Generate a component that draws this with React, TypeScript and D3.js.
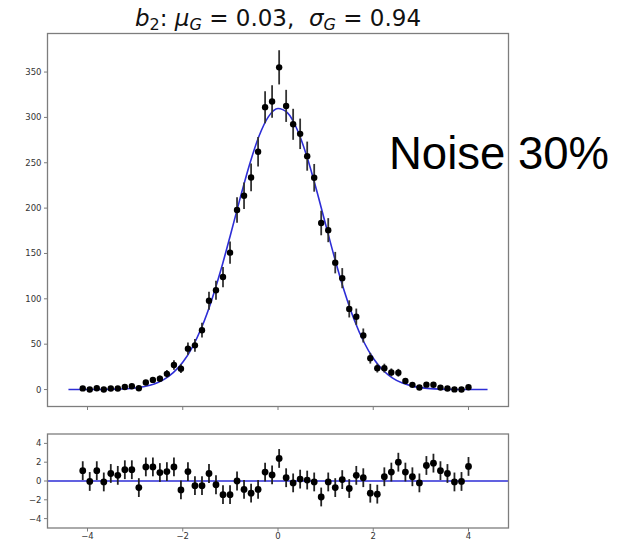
import React from "react";
import * as d3 from "d3";

// ---- data ----
const binX = [
  -4.1, -3.953, -3.805, -3.658, -3.511, -3.364, -3.216, -3.069, -2.922, -2.775,
  -2.627, -2.48, -2.333, -2.185, -2.038, -1.891, -1.744, -1.596, -1.449, -1.302,
  -1.155, -1.007, -0.86, -0.713, -0.565, -0.418, -0.271, -0.124, 0.024, 0.171,
  0.318, 0.465, 0.613, 0.76, 0.907, 1.055, 1.202, 1.349, 1.496, 1.644,
  1.791, 1.938, 2.085, 2.233, 2.38, 2.527, 2.675, 2.822, 2.969, 3.116,
  3.264, 3.411, 3.558, 3.705, 3.853, 4.0,
];
const counts = [
  1.25, 0.03, 1.37, 0.11, 1.1, 1.08, 2.81, 3.64, 1.41, 7.8,
  10.6, 11.9, 17.3, 27.1, 23.0, 45.1, 48.7, 65.4, 97.8, 109.4,
  124.0, 150.9, 198.0, 213.6, 233.8, 262.1, 311.3, 317.5, 355.2, 312.7,
  292.4, 281.9, 257.3, 233.4, 183.6, 175.7, 139.9, 122.8, 88.9, 80.3,
  59.6, 34.5, 23.6, 23.6, 18.9, 18.5, 9.38, 5.16, 2.28, 5.41,
  5.31, 2.15, 1.18, 0.13, 0.08, 2.48,
];
const countErrors = [
  1.12, 0.17, 1.17, 0.33, 1.05, 1.04, 1.68, 1.91, 1.19, 2.79,
  3.25, 3.45, 4.16, 5.21, 4.8, 6.72, 6.98, 8.09, 9.89, 10.46,
  11.14, 12.28, 14.07, 14.62, 15.29, 16.19, 17.64, 17.82, 18.85, 17.68,
  17.1, 16.79, 16.04, 15.28, 13.55, 13.26, 11.83, 11.08, 9.43, 8.96,
  7.72, 5.87, 4.86, 4.86, 4.35, 4.3, 3.06, 2.27, 1.51, 2.33,
  2.3, 1.47, 1.09, 0.36, 0.28, 1.57,
];
const residuals = [
  1.1, -0.05, 1.1, -0.1, 0.8, 0.6, 1.2, 1.2, -0.7, 1.5,
  1.5, 0.9, 1.0, 1.5, -0.95, 1.0, -0.5, -0.5, 0.8, -0.4,
  -1.45, -1.45, 0.0, -0.9, -1.3, -0.9, 0.95, 0.65, 2.4, 0.35,
  -0.2, 0.2, 0.1, -0.1, -1.7, -0.1, -0.7, 0.15, -0.8, 0.6,
  0.35, -1.3, -1.4, 0.45, 0.95, 2.0, 0.95, 0.45, -0.2, 1.65,
  1.9, 1.1, 0.8, -0.1, -0.05, 1.55,
];
const residualError = 1;

const fitX = [
  -4.4, -4.2, -4.0, -3.8, -3.6, -3.4, -3.2, -3.0, -2.8, -2.6,
  -2.4, -2.2, -2.0, -1.8, -1.6, -1.4, -1.2, -1.0, -0.8, -0.6,
  -0.4, -0.2, 0.0, 0.2, 0.4, 0.6, 0.8, 1.0, 1.2, 1.4,
  1.6, 1.8, 2.0, 2.2, 2.4, 2.6, 2.8, 3.0, 3.2, 3.4,
  3.6, 3.8, 4.0, 4.2, 4.4,
];
const fitY = [
  0.005, 0.012, 0.03, 0.08, 0.18, 0.4, 0.85, 1.72, 3.34, 6.19,
  10.97, 18.59, 30.1, 46.59, 68.94, 97.46, 131.7, 170.1, 209.9, 247.6,
  279.2, 300.9, 309.8, 305.0, 286.9, 258.0, 221.6, 182.0, 142.9, 107.2,
  76.85, 52.67, 34.48, 21.58, 12.91, 7.38, 4.03, 2.11, 1.05, 0.5,
  0.23, 0.1, 0.04, 0.016, 0.006,
];

const mainYTicks = [0, 50, 100, 150, 200, 250, 300, 350];
const xTicks = [-4, -2, 0, 2, 4];
const resYTicks = [-4, -2, 0, 2, 4];
const titleParts = { param: "b", paramSub: "2", mu: "0.03", sigma: "0.94" };
const sideLabel = "Noise 30%";

// ---- layout ----
const W = 620;
const H = 540;
const L = 47.5;
const R = 508.5;
const mainTop = 33.5;
const mainBottom = 406.5;
const resTop = 434;
const resBottom = 528;

const FRAME = "#7d7d7d";
const BLUE = "#2d2dd6";
const TICKFONT = "DejaVu Sans";

const fmt = (v: number) => (v < 0 ? "\u2212" + Math.abs(v) : String(v));

export default function App() {
  const x = d3.scaleLinear().domain([-4.84, 4.84]).range([L, R]);
  const y = d3.scaleLinear().domain([-18.7, 392.5]).range([mainBottom, mainTop]);
  const yr = d3.scaleLinear().domain([-5, 5]).range([resBottom, resTop]);

  const fitLine = d3
    .line<number>()
    .x((_, i) => x(fitX[i]))
    .y((d) => y(d))
    .curve(d3.curveMonotoneX);

  const tickStyle = { fontFamily: TICKFONT, fontSize: 8.5, fill: "#333" } as const;

  return (
    <div style={{ position: "absolute", left: 0, top: 0 }}>
      <svg width={W} height={H} style={{ display: "block", background: "#fff" }}>
        {/* title */}
        <text
          x={(L + R) / 2}
          y={26}
          textAnchor="middle"
          style={{ fontFamily: "DejaVu Sans", fontSize: 23, fill: "#111", whiteSpace: "pre" }}
        >
          <tspan fontStyle="italic">{titleParts.param}</tspan>
          <tspan fontSize={16} dy={4}>{titleParts.paramSub}</tspan>
          <tspan dy={-4}>: </tspan>
          <tspan fontStyle="italic">μ</tspan>
          <tspan fontSize={16} fontStyle="italic" dy={4}>G</tspan>
          <tspan dy={-4}>{` = ${titleParts.mu},  `}</tspan>
          <tspan fontStyle="italic">σ</tspan>
          <tspan fontSize={16} fontStyle="italic" dy={4}>G</tspan>
          <tspan dy={-4}>{` = ${titleParts.sigma}`}</tspan>
        </text>

        {/* main panel */}
        <g>
          {mainYTicks.map((t) => (
            <g key={"my" + t}>
              <line x1={L - 3.5} x2={L} y1={y(t)} y2={y(t)} stroke={FRAME} strokeWidth={1} />
              <text x={L - 6} y={y(t)} dy="0.35em" textAnchor="end" style={tickStyle}>
                {t}
              </text>
            </g>
          ))}
          {xTicks.map((t) => (
            <line key={"mx" + t} x1={x(t)} x2={x(t)} y1={mainBottom} y2={mainBottom + 3.5} stroke={FRAME} strokeWidth={1} />
          ))}
          <path d={fitLine(fitY) || ""} fill="none" stroke={BLUE} strokeWidth={1.6} />
          {binX.map((bx, i) => (
            <line
              key={"me" + i}
              x1={x(bx)}
              x2={x(bx)}
              y1={y(counts[i] - countErrors[i])}
              y2={y(counts[i] + countErrors[i])}
              stroke="#333"
              strokeWidth={1.8}
            />
          ))}
          {binX.map((bx, i) => (
            <circle key={"mp" + i} cx={x(bx)} cy={y(counts[i])} r={3.2} fill="#000" />
          ))}
          <rect x={L} y={mainTop} width={R - L} height={mainBottom - mainTop} fill="none" stroke={FRAME} strokeWidth={1.3} />
        </g>

        {/* residual panel */}
        <g>
          {resYTicks.map((t) => (
            <g key={"ry" + t}>
              <line x1={L - 3.5} x2={L} y1={yr(t)} y2={yr(t)} stroke={FRAME} strokeWidth={1} />
              <text x={L - 6} y={yr(t)} dy="0.35em" textAnchor="end" style={tickStyle}>
                {fmt(t)}
              </text>
            </g>
          ))}
          {xTicks.map((t) => (
            <g key={"rx" + t}>
              <line x1={x(t)} x2={x(t)} y1={resBottom} y2={resBottom + 3.5} stroke={FRAME} strokeWidth={1} />
              <text x={x(t)} y={resBottom + 10.5} textAnchor="middle" style={tickStyle}>
                {fmt(t)}
              </text>
            </g>
          ))}
          <line x1={L} x2={R} y1={yr(0)} y2={yr(0)} stroke={BLUE} strokeWidth={1.6} />
          {binX.map((bx, i) => (
            <line
              key={"re" + i}
              x1={x(bx)}
              x2={x(bx)}
              y1={yr(residuals[i] - residualError)}
              y2={yr(residuals[i] + residualError)}
              stroke="#222"
              strokeWidth={1.8}
            />
          ))}
          {binX.map((bx, i) => (
            <circle key={"rp" + i} cx={x(bx)} cy={yr(residuals[i])} r={3.4} fill="#000" />
          ))}
          <rect x={L} y={resTop} width={R - L} height={resBottom - resTop} fill="none" stroke={FRAME} strokeWidth={1.3} />
        </g>

        {/* side label */}
        <text x={389} y={169} style={{ fontFamily: "Liberation Sans", fontSize: 45.5, fill: "#000" }}>
          {sideLabel}
        </text>
      </svg>
    </div>
  );
}
